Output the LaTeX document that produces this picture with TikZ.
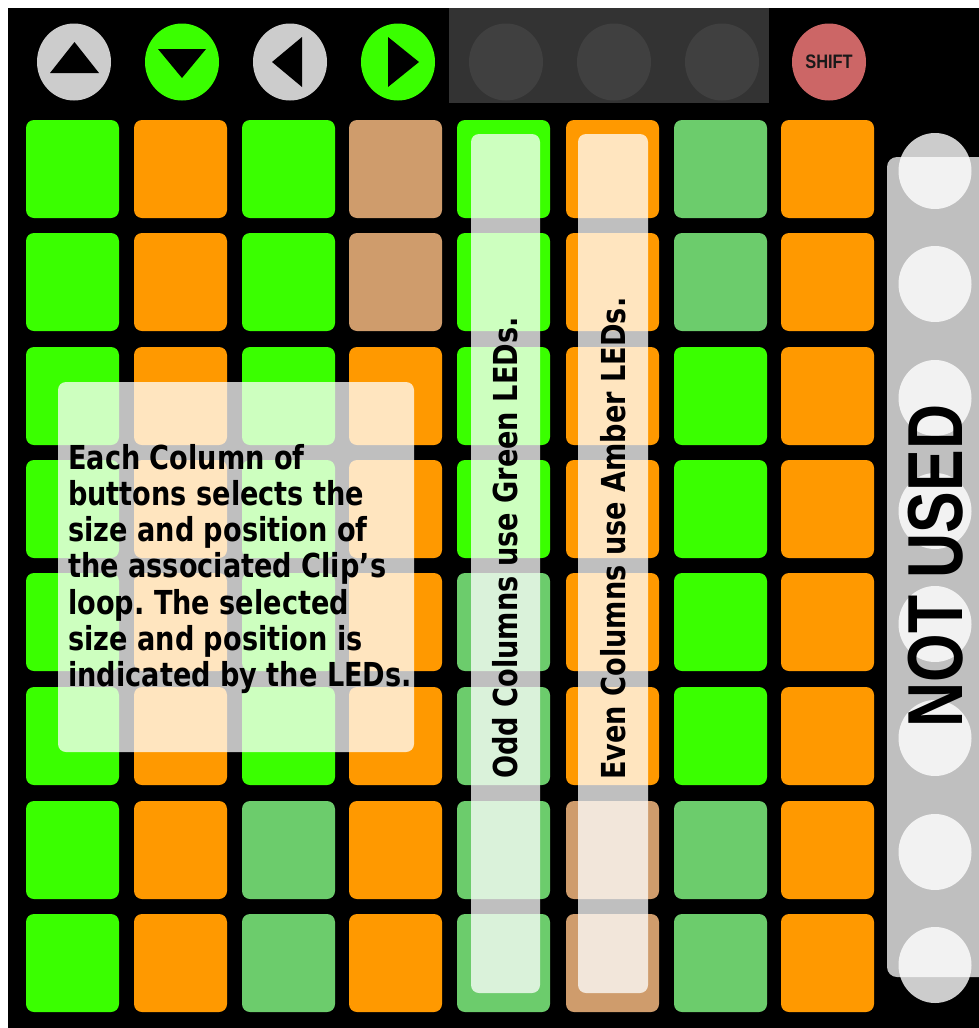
\documentclass[tikz,border=0pt]{standalone}
\usepackage{fontspec}
\usetikzlibrary{shapes.geometric}
\newfontfamily\padfont{DejaVu Sans}[FakeStretch=0.823]
\newfontfamily\narrowfont{Liberation Sans}[FakeStretch=0.8]
\newfontfamily\shiftfont{Liberation Sans}[FakeStretch=0.84]
\definecolor{cG}{RGB}{58,255,0}
\definecolor{cO}{RGB}{255,153,0}
\definecolor{cT}{RGB}{207,156,108}
\definecolor{cM}{RGB}{108,204,108}
\definecolor{btngrey}{RGB}{204,204,204}
\definecolor{darkpanel}{RGB}{51,51,51}
\definecolor{darkbtn}{RGB}{64,64,64}
\definecolor{shiftred}{RGB}{204,102,102}
\frenchspacing
\begin{document}
\begin{tikzpicture}[x=1pt,y=-1pt,
  pad/.style={rectangle, rounded corners=8pt, minimum width=93pt, minimum height=98pt, inner sep=0pt, draw=none},
  topbtn/.style={ellipse, minimum width=74pt, minimum height=77pt, inner sep=0pt},
  veil/.style={rectangle, fill=white, fill opacity=0.75, rounded corners=8pt, inner sep=0pt},
  sidebtn/.style={ellipse, fill=btngrey, minimum width=73pt, minimum height=76pt, inner sep=0pt},
  colfont/.style={font=\padfont\bfseries\fontsize{33}{36.3}\selectfont}
]
\useasboundingbox (0,0) rectangle (979,1028);
\fill[white] (0,0) rectangle (979,1028);
\fill[black] (8,8) rectangle (979,1028);

% top row
\node[fill=darkpanel, minimum width=320pt, minimum height=95pt, inner sep=0pt] (navpanel) at (609,55.5) {};
\node[topbtn, fill=btngrey] (bup) at (74,62) {};
\node[topbtn, fill=cG] (bdown) at (182,62) {};
\node[topbtn, fill=btngrey] (bleft) at (290,62) {};
\node[topbtn, fill=cG] (bright) at (398,62) {};
\node[topbtn, fill=darkbtn] (bs1) at (506,62) {};
\node[topbtn, fill=darkbtn] (bs2) at (614,62) {};
\node[topbtn, fill=darkbtn] (bs3) at (722,62) {};
\node[topbtn, fill=shiftred, text=black!90, font=\shiftfont\bfseries\fontsize{19.5}{19.5}\selectfont] (bshift) at (829,62) {SHIFT};
\fill[black] (50,73) -- (99,73) -- (74.5,42) -- cycle;
\fill[black] (158,49) -- (206,49) -- (182,78) -- cycle;
\fill[black] (302,37) -- (302,87) -- (272,62) -- cycle;
\fill[black] (388,37) -- (388,87) -- (419,62) -- cycle;

% pads
\foreach \rowcols [count=\r] in {{G,O,G,T,G,O,M,O},{G,O,G,T,G,O,M,O},{G,O,G,O,G,O,G,O},{G,O,G,O,G,O,G,O},{G,O,G,O,M,O,G,O},{G,O,G,O,M,O,G,O},{G,O,M,O,M,T,M,O},{G,O,M,O,M,T,M,O}} {
  \foreach \c [count=\k] in \rowcols {
    \pgfmathsetmacro{\cx}{{72.5,180.5,288.5,395.5,503.5,612.5,720.5,827.5}[\k-1]}
    \pgfmathsetmacro{\cy}{{169,282,396,509,622,736,850,963}[\r-1]}
    \node[pad, fill=c\c] (p\r\k) at (\cx,\cy) {};
  }
}

% side buttons
\foreach \cy [count=\i] in {171,284,398,511,624,738,852,965}
  \node[sidebtn] (s\i) at (935,\cy) {};

% translucent overlays
\node[veil, minimum width=356pt, minimum height=370pt] (infobox) at (236,567) {};
\node[veil, minimum width=69pt, minimum height=859pt] (oddveil) at (505.5,563.5) {};
\node[veil, minimum width=70pt, minimum height=859pt] (evenveil) at (613,563.5) {};
\node[veil, rounded corners=10pt, minimum width=110pt, minimum height=820pt] (unusedpanel) at (942,567) {};

% texts
\node[anchor=west, align=left, inner sep=0pt, colfont] (infotext) at (68,569)
  {Each Column of\\buttons selects the\\size and position of\\the associated Clip’s\\loop. The selected\\size and position is\\indicated by the LEDs.};
\node[rotate=90, anchor=west, inner sep=0pt, colfont] (oddtext) at (505.5,779) {Odd Columns use Green LEDs.};
\node[rotate=90, anchor=west, inner sep=0pt, colfont] (eventext) at (613,780) {Even Columns use Amber LEDs.};
\node[rotate=90, inner sep=0pt, font=\narrowfont\bfseries\fontsize{78}{78}\selectfont] (nottext) at (935.5,566) {NOT USED};
\end{tikzpicture}
\end{document}
